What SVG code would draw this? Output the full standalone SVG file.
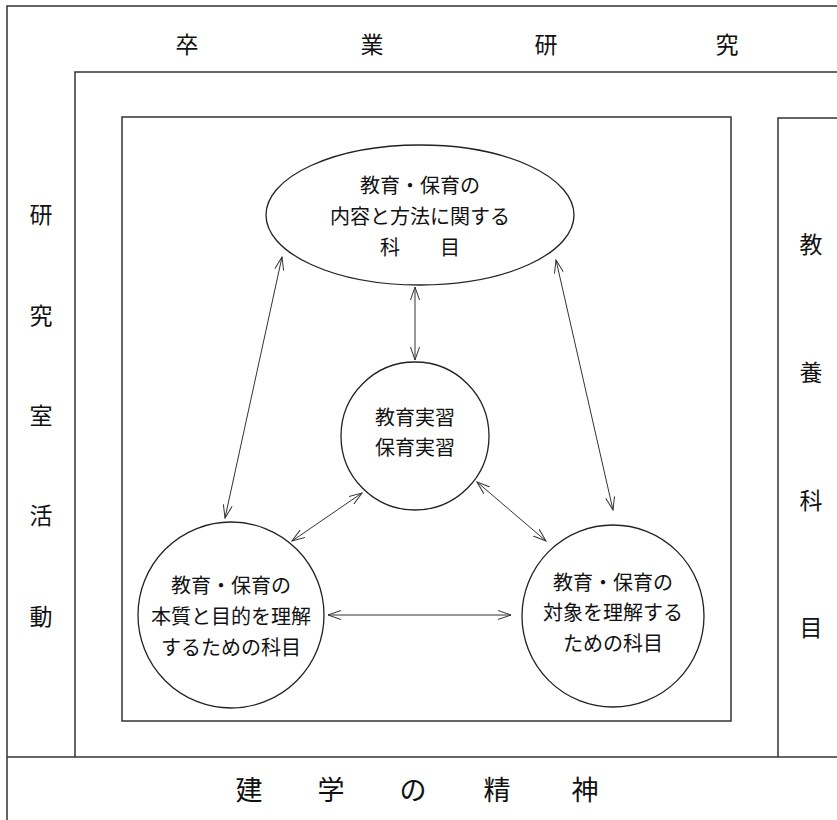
<svg xmlns="http://www.w3.org/2000/svg" width="837" height="820" viewBox="0 0 837 820">
<defs>
<style>
.frame{fill:none;stroke:#333;stroke-width:1.5}
.node{fill:#fff;stroke:#222;stroke-width:1.3}
.lbl{font-family:"Noto Sans CJK JP","Noto Sans CJK SC",sans-serif;fill:#111;text-anchor:middle}
.big{font-size:23px}
.bot{font-size:27px}
.nt{font-size:20px}
.conn{stroke:#333;stroke-width:1;fill:none;marker-start:url(#ah);marker-end:url(#ah)}
</style>
<marker id="ah" viewBox="0 0 14 10" refX="13" refY="5" markerWidth="14" markerHeight="10" markerUnits="userSpaceOnUse" orient="auto-start-reverse">
<path d="M0,0.5 L13,5 L0,9.5" fill="none" stroke="#333" stroke-width="1"/>
</marker>
</defs>
<rect width="837" height="820" fill="#fff"/>

<g id="sotsugyo-kenkyu">
<path class="frame" d="M840,6 H7 V820"/>
<text class="lbl big" x="187" y="53">卒</text>
<text class="lbl big" x="372" y="53">業</text>
<text class="lbl big" x="546" y="53">研</text>
<text class="lbl big" x="727" y="53">究</text>
</g>

<g id="kenkyushitsu-katsudo">
<path class="frame" d="M840,72 H75 V757"/>
<text class="lbl big" x="41" y="223">研</text>
<text class="lbl big" x="41" y="324">究</text>
<text class="lbl big" x="41" y="424">室</text>
<text class="lbl big" x="41" y="524">活</text>
<text class="lbl big" x="41" y="625">動</text>
</g>

<g id="kyoyo-kamoku">
<path class="frame" d="M840,118 H778 V757"/>
<text class="lbl big" x="811" y="253">教</text>
<text class="lbl big" x="811" y="381">養</text>
<text class="lbl big" x="811" y="509">科</text>
<text class="lbl big" x="811" y="636">目</text>
</g>

<g id="kengaku-no-seishin">
<path class="frame" d="M7,757 H840"/>
<text class="lbl bot" x="249" y="800">建</text>
<text class="lbl bot" x="331" y="800">学</text>
<text class="lbl bot" x="413" y="800">の</text>
<text class="lbl bot" x="497" y="800">精</text>
<text class="lbl bot" x="585" y="800">神</text>
</g>

<g id="senmon-box">
<rect class="frame" x="122" y="117" width="609" height="604"/>
</g>

<g id="connectors">
<line class="conn" x1="282" y1="257" x2="225" y2="518"/>
<line class="conn" x1="556" y1="260" x2="613" y2="510"/>
<line class="conn" x1="415" y1="287" x2="415" y2="360"/>
<line class="conn" x1="362" y1="493" x2="292" y2="541"/>
<line class="conn" x1="477" y1="482" x2="546" y2="541"/>
<line class="conn" x1="328" y1="615" x2="511" y2="615"/>
</g>

<g id="naiyo-hoho">
<ellipse class="node" cx="420" cy="215" rx="154" ry="70"/>
<text class="lbl nt" x="420" y="193">教育・保育の</text>
<text class="lbl nt" x="420" y="224">内容と方法に関する</text>
<text class="lbl nt" x="420" y="255">科　　目</text>
</g>

<g id="jisshu">
<circle class="node" cx="415" cy="436" r="74"/>
<text class="lbl nt" x="415" y="425">教育実習</text>
<text class="lbl nt" x="415" y="455">保育実習</text>
</g>

<g id="honshitsu">
<circle class="node" cx="231" cy="615" r="93"/>
<text class="lbl nt" x="231" y="593">教育・保育の</text>
<text class="lbl nt" x="231" y="624">本質と目的を理解</text>
<text class="lbl nt" x="231" y="655">するための科目</text>
</g>

<g id="taisho">
<circle class="node" cx="613" cy="616" r="91"/>
<text class="lbl nt" x="613" y="590">教育・保育の</text>
<text class="lbl nt" x="613" y="620">対象を理解する</text>
<text class="lbl nt" x="613" y="651">ための科目</text>
</g>
</svg>
